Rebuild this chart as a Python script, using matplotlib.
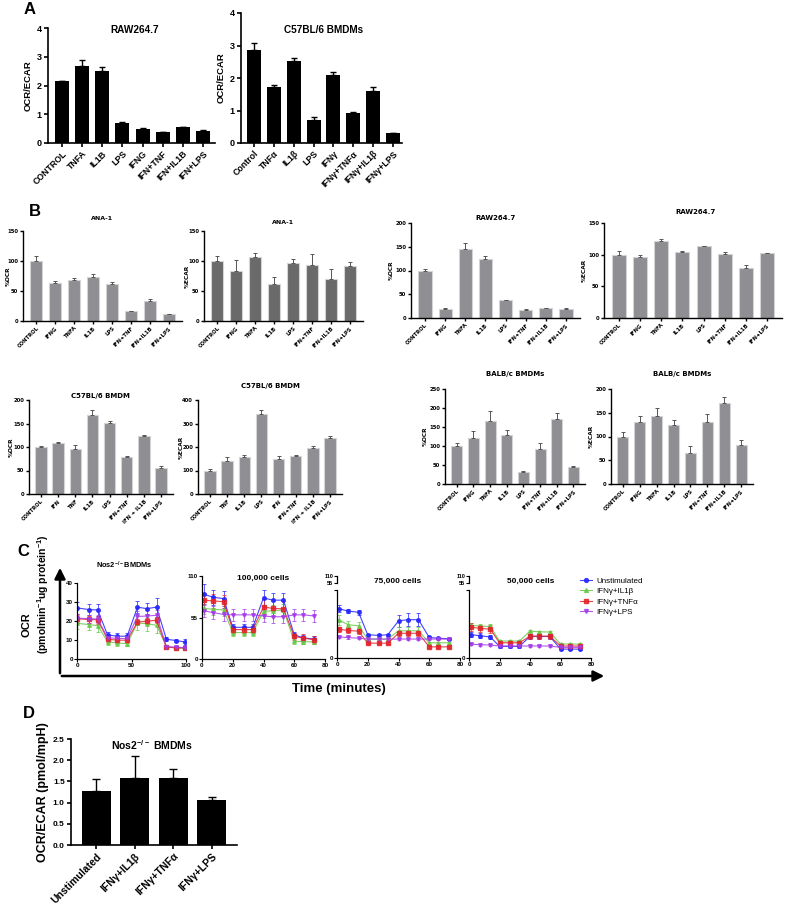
import numpy as np
import matplotlib
matplotlib.use('Agg')
import matplotlib.pyplot as plt
from matplotlib.patches import FancyArrowPatch
from matplotlib.lines import Line2D

plt.rcParams['font.family'] = ['Liberation Sans', 'DejaVu Sans']
plt.rcParams['font.weight'] = 'bold'
plt.rcParams['mathtext.default'] = 'regular'

# ---------------- data ----------------
# Panel A
a_raw_labels = ['CONTROL', 'TNFA', 'IL1B', 'LPS', 'IFNG', 'IFN+TNF', 'IFN+IL1B', 'IFN+LPS']
a_raw_vals = [2.15, 2.68, 2.52, 0.71, 0.49, 0.38, 0.54, 0.43]
a_raw_errs = [0.02, 0.19, 0.12, 0.03, 0.02, 0.01, 0.02, 0.01]
a_c57_labels = ['Control', 'TNFα', 'IL1β', 'LPS', 'IFNγ', 'IFNγ+TNFα', 'IFNγ+IL1β', 'IFNγ+LPS']
a_c57_vals = [2.87, 1.73, 2.51, 0.71, 2.10, 0.92, 1.59, 0.30]
a_c57_errs = [0.21, 0.06, 0.11, 0.08, 0.08, 0.03, 0.13, 0.02]

# Panel B
b_std_labels = ['CONTROL', 'IFNG', 'TNFA', 'IL1B', 'LPS', 'IFN+TNF', 'IFN+IL1B', 'IFN+LPS']
b_c57ocr_labels = ['CONTROL', 'IFN', 'TNF', 'IL1B', 'LPS', 'IFN+TNF', 'IFN + IL1B', 'IFN+LPS']
b_c57ecar_labels = ['CONTROL', 'TNF', 'IL1B', 'LPS', 'IFN', 'IFN+TNF', 'IFN + IL1B', 'IFN+LPS']
ana_ocr_vals = [100, 64, 69, 74, 62, 16, 33, 11]
ana_ocr_errs = [8, 3, 3, 5, 3, 1, 4, 1]
ana_ecar_vals = [100, 84, 107, 62, 97, 93, 70, 91]
ana_ecar_errs = [9, 18, 7, 12, 7, 18, 17, 7]
raw_ocr_vals = [100, 19.5, 145, 124, 37, 17, 21, 19.5]
raw_ocr_errs = [4, 1.5, 12, 7, 1, 1, 1, 1.5]
raw_ecar_vals = [100, 96, 121, 104, 113, 101, 79, 102]
raw_ecar_errs = [6, 4, 3, 2, 1, 2.5, 5, 1]
c57_ocr_vals = [100, 109, 95, 169, 152, 78, 123, 56]
c57_ocr_errs = [1.5, 1, 9, 9, 4, 2, 3.5, 3]
c57_ecar_vals = [99, 142, 157, 342, 149, 160, 194, 240]
c57_ecar_errs = [7, 14, 9, 14, 11, 5, 10, 5]
balb_ocr_vals = [100, 122, 165, 130, 31, 92, 171, 44]
balb_ocr_errs = [9, 17, 27, 12, 2, 15, 16, 4]
balb_ecar_vals = [100, 130, 144, 124, 65, 130, 170, 82]
balb_ecar_errs = [10, 13, 15, 10, 14, 18, 13, 10]

# Panel C
series_names = ['Unstimulated', 'IFNγ+IL1β', 'IFNγ+TNFα', 'IFNγ+LPS']
t_nos2 = [0, 11, 19, 28, 37, 46, 55.5, 64, 73, 82, 91, 99]
t_cells = [1, 7, 14, 20, 27, 33, 40, 46, 53, 60, 66, 73]
nos2_unst = [26.9, 26.0, 25.8, 12.7, 12.0, 12.0, 27.3, 26.5, 27.3, 10.4, 9.7, 9.0]
nos2_il1b = [18.8, 18.1, 17.6, 9.1, 8.4, 8.1, 19.0, 18.5, 17.8, 6.5, 5.7, 5.6]
nos2_tnfa = [21.2, 20.8, 20.6, 10.4, 9.9, 9.9, 19.4, 19.9, 20.4, 6.3, 5.9, 5.9]
nos2_lps = [21.5, 21.2, 21.0, 11.3, 10.8, 10.8, 22.4, 22.6, 23.0, 6.5, 6.2, 6.0]
nos2_unst_err = [3, 3, 3, 1.5, 1.5, 1.5, 3, 3, 5, 1, 1, 1.5]
nos2_il1b_err = [3, 3, 3.5, 1.5, 1.5, 1.5, 3.5, 3.5, 4, 1, 1, 1]
nos2_tnfa_err = [2, 2, 2, 1.5, 1.5, 1.5, 1.5, 1.5, 1.5, 0.7, 0.7, 0.7]
nos2_lps_err = [2, 2, 2, 1.5, 1.5, 1.5, 3, 3, 3, 0.7, 0.7, 0.7]

c100_unst = [86, 82, 80, 42, 42, 42, 81, 78, 78, 32, 28, 26.4]
c100_il1b = [67, 66, 65, 35, 35, 35, 63, 64, 65, 23.3, 23, 22.5]
c100_tnfa = [78, 77, 76, 39, 39, 39, 69, 67, 66.5, 30, 27.7, 25.5]
c100_lps = [64, 61.6, 59, 58.5, 58.5, 58.5, 57, 56, 56, 58.5, 58.5, 57]
c100_unst_err = [13, 10, 10, 4, 4, 4, 10, 10, 10, 4, 4, 4]
c100_il1b_err = [8, 8, 8, 4, 4, 4, 8, 8, 8, 3, 3, 3]
c100_tnfa_err = [10, 9, 9, 5, 5, 5, 10, 10, 10, 5, 5, 5]
c100_lps_err = [8, 8, 8, 8, 8, 8, 8, 8, 8, 8, 8, 8]

c75_unst = [40, 38, 37, 18.8, 18.3, 18.8, 30, 31, 31, 16.6, 16, 15.5]
c75_il1b = [31, 27, 26, 15.3, 15.3, 15.3, 22, 22, 22, 12.3, 12.3, 12.3]
c75_tnfa = [23.3, 22.3, 21.7, 12, 12, 12, 20, 20, 20, 9, 9, 9]
c75_lps = [17, 16.6, 16, 15.3, 15.3, 15.3, 15.3, 15.3, 15.3, 15.3, 15.3, 15.3]
c75_unst_err = [3, 2, 2, 1, 1, 1, 5, 5, 5, 1, 1, 1]
c75_il1b_err = [4, 3, 3, 1, 1, 1, 3, 3, 3, 1, 1, 1]
c75_tnfa_err = [2, 2, 2, 1, 1, 1, 2, 2, 2, 1, 1, 1]
c75_lps_err = [1, 1, 1, 1, 1, 1, 1, 1, 1, 1, 1, 1]

c50_unst = [19, 18, 17, 9.4, 9.4, 9.4, 17.4, 17.4, 17.4, 7.2, 7.2, 7.2]
c50_il1b = [26.6, 25.8, 25.5, 13.7, 13.7, 13.7, 21.7, 21.2, 21, 11.3, 11.3, 11.3]
c50_tnfa = [25, 24, 23.3, 12.3, 12.3, 12.3, 17.7, 17.7, 17.7, 9.7, 9.7, 9.7]
c50_lps = [11.3, 10.7, 10.5, 9.7, 9.7, 9.7, 9.7, 9.7, 9.7, 8.6, 8.6, 8.6]
c50_unst_err = [2, 2, 2, 1, 1, 1, 2, 2, 2, 1, 1, 1]
c50_il1b_err = [2, 2, 2, 1, 1, 1, 1, 1, 1, 1, 1, 1]
c50_tnfa_err = [3, 3, 3, 1, 1, 1, 2, 2, 2, 1, 1, 1]
c50_lps_err = [1, 1, 1, 0.5, 0.5, 0.5, 0.5, 0.5, 0.5, 0.5, 0.5, 0.5]

# Panel D
d_labels = ['Unstimulated', 'IFNγ+IL1β', 'IFNγ+TNFα', 'IFNγ+LPS']
d_vals = [1.27, 1.58, 1.58, 1.07]
d_errs = [0.29, 0.51, 0.22, 0.07]

# ---------------- figure ----------------
W, H = 787, 907
fig = plt.figure(figsize=(W / 100, H / 100), dpi=100)


def axpx(l, t, r, b):
    return fig.add_axes([l / W, 1 - b / H, (r - l) / W, (b - t) / H])


def ftext(x, y, s, **kw):
    fig.text(x / W, 1 - y / H, s, **kw)


def bar_panel(ax, labels, vals, errs, ymax, ystep, xlim, width, color, edge,
              ecolor, fs_y, fs_x, lw, capsize, elw, fam=None, tlen=3):
    x = np.arange(len(vals))
    ax.bar(x, vals, width=width, color=color, edgecolor=edge, linewidth=0.8 if edge != color else 0)
    ax.errorbar(x, vals, yerr=[np.zeros(len(errs)), errs], fmt='none', ecolor=ecolor,
                capsize=capsize, elinewidth=elw, capthick=elw)
    ax.set_xlim(*xlim)
    ax.set_ylim(0, ymax)
    ax.set_yticks(np.arange(0, ymax + ystep / 2, ystep))
    ax.set_xticks(x)
    for s in ['top', 'right']:
        ax.spines[s].set_visible(False)
    for s in ['left', 'bottom']:
        ax.spines[s].set_linewidth(lw)
    ax.tick_params(axis='both', width=lw, length=tlen, pad=1.5)
    kw = dict(fontweight='bold')
    if fam:
        kw['family'] = fam
    ax.set_xticklabels(labels, rotation=45, ha='right', rotation_mode='anchor', fontsize=fs_x, **kw)
    yt = ax.get_yticks()
    ax.set_yticklabels([('%g' % v) for v in yt], fontsize=fs_y, **kw)


# ---- Panel A ----
ftext(30, 10, 'A', fontsize=12, fontweight='bold', va='center', ha='center')
axA1 = axpx(48, 28, 215, 143)
bar_panel(axA1, a_raw_labels, a_raw_vals, a_raw_errs, 4, 1, (-0.7, 7.6), 0.7, 'black', 'black',
          'black', 6.5, 6.3, 1.2, 2, 1.0)
axA1.set_ylabel('OCR/ECAR', fontsize=6.8, fontweight='bold', labelpad=3)
ftext(135, 30, 'RAW264.7', fontsize=7.2, fontweight='bold', ha='center', va='center')
axA2 = axpx(241, 13, 402, 143)
bar_panel(axA2, a_c57_labels, a_c57_vals, a_c57_errs, 4, 1, (-0.65, 7.45), 0.7, 'black', 'black',
          'black', 6.5, 6.3, 1.2, 2, 1.0)
axA2.set_ylabel('OCR/ECAR', fontsize=6.8, fontweight='bold', labelpad=3)
ftext(324, 30, 'C57BL/6 BMDMs', fontsize=7.2, fontweight='bold', ha='center', va='center')

# ---- Panel B ----
ftext(35, 212, 'B', fontsize=12, fontweight='bold', va='center', ha='center')
GRAY = '#8e8e93'
DARK = '#6a6a6a'
EDGE = '#d4d4d6'
bspec = [
    (23, 231, 182, 321, b_std_labels, ana_ocr_vals, ana_ocr_errs, 150, 50, GRAY, 'ANA-1', 102, 219, '%OCR', 8, 4.5),
    (204, 231, 363, 321, b_std_labels, ana_ecar_vals, ana_ecar_errs, 150, 50, DARK, 'ANA-1', 283, 222, '%ECAR', 187, 4.5),
    (411, 223, 580, 318, b_std_labels, raw_ocr_vals, raw_ocr_errs, 200, 50, GRAY, 'RAW264.7', 495, 218, '%OCR', 391, 5.0),
    (604, 223, 782, 318, b_std_labels, raw_ecar_vals, raw_ecar_errs, 150, 50, GRAY, 'RAW264.7', 695, 212, '%ECAR', 584, 5.0),
    (29, 400, 173, 494, b_c57ocr_labels, c57_ocr_vals, c57_ocr_errs, 200, 50, GRAY, 'C57BL/6 BMDM', 100, 396, '%OCR', 11, 5.0),
    (198, 400, 342, 494, b_c57ecar_labels, c57_ecar_vals, c57_ecar_errs, 400, 100, GRAY, 'C57BL/6 BMDM', 270, 386, '%ECAR', 181, 5.0),
    (445, 389, 585, 484, b_std_labels, balb_ocr_vals, balb_ocr_errs, 250, 50, GRAY, 'BALB/c BMDMs', 515, 374, '%OCR', 425, 5.0),
    (611, 389, 753, 484, b_std_labels, balb_ecar_vals, balb_ecar_errs, 200, 50, GRAY, 'BALB/c BMDMs', 682, 374, '%ECAR', 591, 5.0),
]
for (l, t, r, b, labs, vals, errs, ymax, step, col, title, tx, ty, ylab, ylx, tfs) in bspec:
    ax = axpx(l, t, r, b)
    bar_panel(ax, labs, vals, errs, ymax, step, (-0.7, 7.7), 0.66, col, EDGE,
              '#555555', 3.8, 3.8, 1.0, 1.2, 0.7, fam='DejaVu Sans', tlen=2)
    ftext(tx, ty, title, fontsize=tfs, fontweight='bold', family='DejaVu Sans', ha='center', va='center')
    ftext(ylx, (t + b) / 2, ylab, fontsize=4.2, fontweight='bold', family='DejaVu Sans',
          ha='center', va='center', rotation=90)

# ---- Panel C ----
ftext(23, 552, 'C', fontsize=12, fontweight='bold', va='center', ha='center')
colors = ['#2424ff', '#68c848', '#e32229', '#a53ce8']
markers = ['o', '^', 's', 'v']


def tc_panel(ax, t, series, errs):
    for y, e, c, m in zip(series, errs, colors, markers):
        ax.errorbar(t, y, yerr=e, color=c, marker=m, ms=2.6, lw=0.8, alpha=0.85,
                    elinewidth=0.6, capsize=1.2, capthick=0.6, ecolor=c)
    for s in ['top', 'right']:
        ax.spines[s].set_visible(False)
    for s in ['left', 'bottom']:
        ax.spines[s].set_linewidth(0.9)
    ax.tick_params(axis='both', width=0.8, length=2, pad=1, labelsize=4.5)
    for lbl in ax.get_xticklabels() + ax.get_yticklabels():
        lbl.set_fontweight('bold')


axC1 = axpx(77, 583, 186, 659)
axC1.set_xlim(0, 100); axC1.set_ylim(0, 40)
axC1.set_xticks([0, 50, 100]); axC1.set_yticks([0, 10, 20, 30, 40])
tc_panel(axC1, t_nos2, [nos2_unst, nos2_il1b, nos2_tnfa, nos2_lps],
         [nos2_unst_err, nos2_il1b_err, nos2_tnfa_err, nos2_lps_err])
ftext(124, 565, r'Nos2$^{-/-}$BMDMs', fontsize=5.3, fontweight='bold', ha='center', va='center')

axC2 = axpx(202, 576, 325, 659)
axC2.set_xlim(0, 80); axC2.set_ylim(0, 110)
axC2.set_xticks([0, 20, 40, 60, 80]); axC2.set_yticks([0, 55, 110])
tc_panel(axC2, t_cells, [c100_unst, c100_il1b, c100_tnfa, c100_lps],
         [c100_unst_err, c100_il1b_err, c100_tnfa_err, c100_lps_err])
ftext(263, 578, '100,000 cells', fontsize=6, fontweight='bold', ha='center', va='center')

for (l, r, data, errs, title, tx) in [
        (337, 460, [c75_unst, c75_il1b, c75_tnfa, c75_lps],
         [c75_unst_err, c75_il1b_err, c75_tnfa_err, c75_lps_err], '75,000 cells', 398),
        (469, 591, [c50_unst, c50_il1b, c50_tnfa, c50_lps],
         [c50_unst_err, c50_il1b_err, c50_tnfa_err, c50_lps_err], '50,000 cells', 531)]:
    ax = axpx(l, 590, r, 658)
    ax.set_xlim(0, 80); ax.set_ylim(0, 55)
    ax.set_xticks([0, 20, 40, 60, 80]); ax.set_yticks([0, 55])
    tc_panel(ax, t_cells, data, errs)
    ax.set_yticklabels(['0', ''])
    axm = axpx(l, 576, l + 4, 583)
    axm.set_ylim(55, 110); axm.set_xlim(0, 1)
    axm.set_yticks([55, 110]); axm.set_xticks([])
    axm.set_yticklabels(['55', '110'], fontsize=4, fontweight='bold')
    axm.tick_params(axis='y', width=0.8, length=2, pad=0.5)
    for s in ['top', 'right', 'bottom']:
        axm.spines[s].set_visible(False)
    axm.spines['left'].set_linewidth(0.9)
    axm.patch.set_visible(False)
    ftext(tx, 581, title, fontsize=6, fontweight='bold', ha='center', va='center')

handles = [Line2D([0], [0], color=c, marker=m, ms=2.8, lw=0.8, alpha=0.85) for c, m in zip(colors, markers)]
fig.legend(handles, series_names, loc='upper left', bbox_to_anchor=(580 / W, 1 - 577 / H),
           frameon=False, handlelength=1.5, labelspacing=0.35, borderaxespad=0, borderpad=0,
           handletextpad=0.5, prop={'family': 'Liberation Sans', 'weight': 'normal', 'size': 5.8})

# big axis arrows
fig.add_artist(FancyArrowPatch((60 / W, 1 - 676 / H), (60 / W, 1 - 565 / H), transform=fig.transFigure,
                               arrowstyle='-|>', mutation_scale=16, lw=1.8, color='black'))
fig.add_artist(FancyArrowPatch((59 / W, 1 - 676 / H), (607 / W, 1 - 676 / H), transform=fig.transFigure,
                               arrowstyle='-|>', mutation_scale=16, lw=1.8, color='black'))
ftext(339, 689, 'Time (minutes)', fontsize=9.5, fontweight='bold', ha='center', va='center')
ftext(26, 625, 'OCR', fontsize=8, fontweight='bold', ha='center', va='center', rotation=90)
ftext(43, 594, r'(pmolmin$^{-1}$ug protein$^{-1}$)', fontsize=7.5, fontweight='bold',
      ha='center', va='center', rotation=90)

# ---- Panel D ----
ftext(29, 714, 'D', fontsize=12, fontweight='bold', va='center', ha='center')
axD = axpx(71, 739, 237, 845)
bar_panel(axD, d_labels, d_vals, d_errs, 2.5, 0.5, (-0.65, 3.65), 0.75, 'black', 'black',
          'black', 6.0, 7.5, 1.2, 3, 1.0)
axD.set_yticklabels(['%.1f' % v for v in np.arange(0, 2.51, 0.5)], fontsize=6.0, fontweight='bold')
axD.set_ylabel('OCR/ECAR (pmol/mpH)', fontsize=9, fontweight='bold', labelpad=3)
ftext(152, 745, r'Nos2$^{-/-}$ BMDMs', fontsize=7.5, fontweight='bold', ha='center', va='center')

fig.savefig('out.png', dpi=100)
